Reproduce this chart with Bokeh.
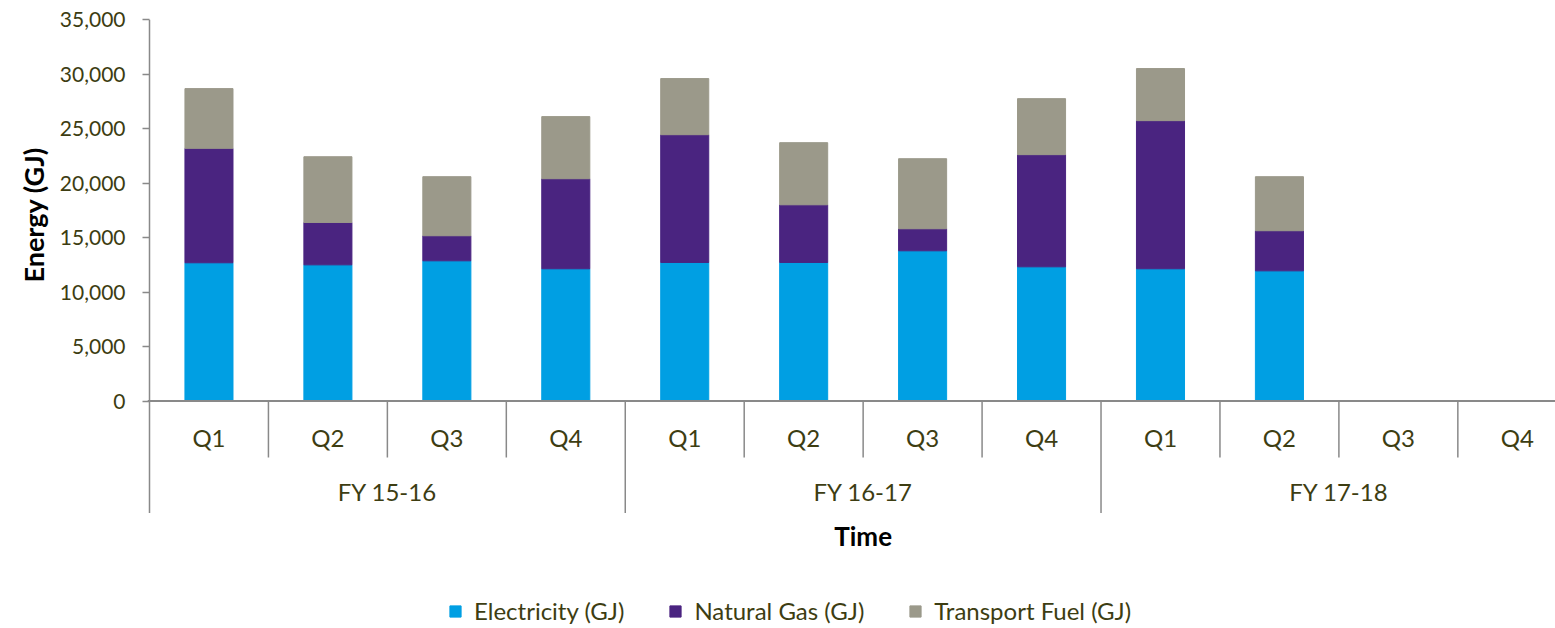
import math
from bokeh.plotting import figure
from bokeh.models import ColumnDataSource, Range1d, FixedTicker, NumeralTickFormatter, Label, Title
from bokeh.core.properties import value
from bokeh.embed import file_html
from bokeh.resources import INLINE

nan = float("nan")

# ---------------- data ----------------
years = ["FY 15-16", "FY 16-17", "FY 17-18"]
quarters = ["Q1", "Q2", "Q3", "Q4"]
electricity = [12680, 12490, 12860, 12130, 12710, 12710, 13780, 12310, 12130, 11940, nan, nan]
natural_gas = [10500, 3890, 2300, 8260, 11720, 5290, 2020, 10290, 13590, 3680, nan, nan]
transport_fuel = [5480, 6030, 5420, 5700, 5150, 5700, 6430, 5140, 4780, 4960, nan, nan]
series_names = ["Electricity (GJ)", "Natural Gas (GJ)", "Transport Fuel (GJ)"]
y_ticks = [0, 5000, 10000, 15000, 20000, 25000, 30000, 35000]

# ---------------- style ----------------
COLORS = ["#009FE3", "#4A2480", "#9B998A"]
OLIVE = "#3D3D12"
GREY = "#898989"
FONT = "Lato"

W, H = 1555, 628
BORDER_LEFT = 147
BORDER_TOP = 19
SLOT_PX = 118.94
PX_PER_UNIT = 381.5 / max(y_ticks)

frame_w = W - BORDER_LEFT
frame_h = H - BORDER_TOP
x_start = -2 / SLOT_PX
x_end = x_start + frame_w / SLOT_PX
y_end = max(y_ticks)
y_start = y_end - frame_h / PX_PER_UNIT


def below(px):
    """data y for a point px pixels below the zero line"""
    return -px / PX_PER_UNIT


n_slots = len(years) * len(quarters)
xs = [i + 0.5 for i in range(n_slots)]
q_labels = [q for _ in years for q in quarters]

src = ColumnDataSource(dict(x=xs, electricity=electricity,
                            natural_gas=natural_gas, transport_fuel=transport_fuel))

p = figure(width=W, height=H, output_backend="svg", toolbar_location=None,
           x_range=Range1d(x_start, x_end), y_range=Range1d(y_start, y_end),
           x_axis_location=None, y_axis_location="left",
           min_border_left=BORDER_LEFT, min_border_top=BORDER_TOP,
           min_border_right=0, min_border_bottom=0,
           background_fill_color="white", border_fill_color="white")
p.outline_line_color = None
p.xgrid.visible = False
p.ygrid.visible = False

p.vbar_stack(["electricity", "natural_gas", "transport_fuel"], x="x", width=0.404,
              color=COLORS, source=src, legend_label=series_names)

# y axis
ax = p.yaxis[0]
ax.ticker = FixedTicker(ticks=y_ticks)
ax.formatter = NumeralTickFormatter(format="0,0")
ax.axis_line_color = None
ax.major_tick_line_color = GREY
ax.major_tick_line_width = 1.5
ax.major_tick_out = 5
ax.major_tick_in = 2
ax.minor_tick_line_color = None
ax.major_label_standoff = 17
ax.major_label_text_font = FONT
ax.major_label_text_font_size = "21px"
ax.major_label_text_color = OLIVE

p.add_layout(Title(text="Energy (GJ)", align="left", offset=346, standoff=13,
                   text_font=FONT, text_font_size="27px", text_font_style="bold",
                   text_color="black"), "left")

# category axis drawn in data space below zero
group_bottom = below(112)
q_bottom = below(56.5)
p.segment(x0=[0], y0=[group_bottom], x1=[0], y1=[max(y_ticks)],
          line_color=GREY, line_width=1.5)
p.segment(x0=[x_start], y0=[0], x1=[x_end], y1=[0], line_color=GREY, line_width=2)
q_seps = [i for i in range(1, n_slots + 1) if i % len(quarters) != 0]
p.segment(x0=q_seps, y0=[0] * len(q_seps), x1=q_seps, y1=[q_bottom] * len(q_seps),
          line_color=GREY, line_width=1.5)
g_seps = [len(quarters) * (k + 1) for k in range(len(years))]
p.segment(x0=g_seps, y0=[0] * len(g_seps), x1=g_seps, y1=[group_bottom] * len(g_seps),
          line_color=GREY, line_width=1.5)

p.text(x=xs, y=[below(36.5)] * n_slots, text=q_labels,
       text_align="center", text_baseline="middle",
       text_font=value(FONT), text_font_size=value("24px"), text_color=OLIVE)
g_x = [len(quarters) * k + len(quarters) / 2 for k in range(len(years))]
p.text(x=g_x, y=[below(90.5)] * len(years), text=years,
       text_align="center", text_baseline="middle",
       text_font=value(FONT), text_font_size=value("24px"), text_color=OLIVE)

p.add_layout(Label(x=n_slots / 2, y=below(135), text="Time",
                   text_align="center", text_baseline="middle",
                   text_font=FONT, text_font_size="26px", text_font_style="bold",
                   text_color="black"))

leg = p.legend[0]
leg.location = (301, 3)
leg.orientation = "horizontal"
leg.padding = 0
leg.margin = 0
leg.border_line_color = None
leg.background_fill_alpha = 0
leg.glyph_width = 14
leg.glyph_height = 14
leg.label_standoff = 12
leg.spacing = 44
leg.label_text_font = FONT
leg.label_text_font_size = "24px"
leg.label_text_color = OLIVE

open("out.html", "w").write(file_html(p, INLINE, "Energy"))
